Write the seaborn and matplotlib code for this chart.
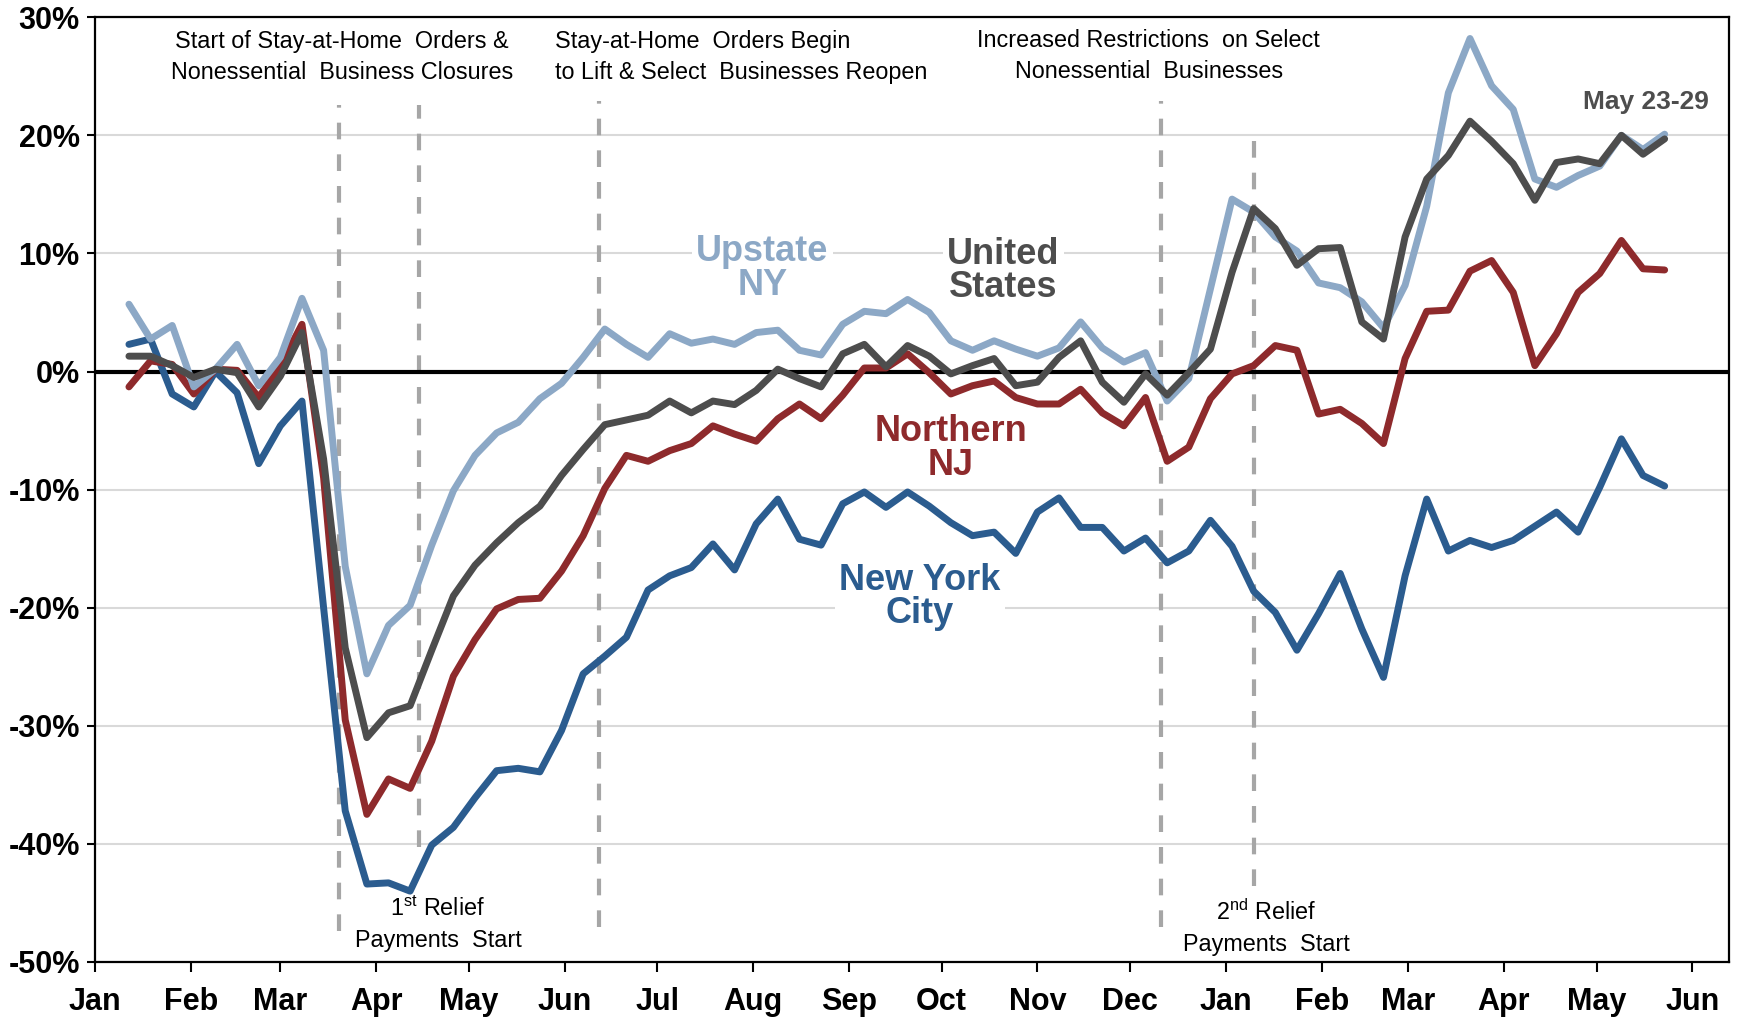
import matplotlib
matplotlib.use('Agg')
import matplotlib.pyplot as plt
import matplotlib.dates as mdates
import seaborn as sns
import pandas as pd

# weekly data, Jan 2020 - May 2021 (week starting dates)
weeks = pd.date_range('2020-01-12', periods=72, freq='7D')

nyc = [2.3, 2.75, -1.9, -3.0, 0.0, -1.8, -7.8, -4.6, -2.5, -20.0,
       -37.2, -43.4, -43.3, -44.0, -40.1, -38.6, -36.1, -33.8, -33.6, -33.9,
       -30.4, -25.6, -24.1, -22.5, -18.5, -17.3, -16.6, -14.6, -16.8, -12.9,
       -10.8, -14.2, -14.7, -11.2, -10.2, -11.5, -10.2, -11.4, -12.8, -13.9,
       -13.6, -15.4, -11.9, -10.7, -13.2, -13.2, -15.2, -14.1, -16.2, -15.2,
       -12.6, -14.8, -18.6, -20.4, -23.6, -20.5, -17.1, -21.8, -25.9, -17.3,
       -10.8, -15.2, -14.3, -14.9, -14.3, -13.1, -11.9, -13.6, -9.8, -5.7,
       -8.8, -9.7]

upstate = [5.7, 2.75, 3.9, -1.3, 0.2, 2.3, -1.2, 1.2, 6.2, 1.8,
           -16.5, -25.6, -21.5, -19.8, -14.7, -10.1, -7.1, -5.2, -4.3, -2.3,
           -1.0, 1.2, 3.6, 2.3, 1.2, 3.2, 2.4, 2.75, 2.3, 3.3,
           3.5, 1.8, 1.4, 4.0, 5.1, 4.9, 6.1, 5.0, 2.6, 1.8,
           2.6, 1.9, 1.3, 2.0, 4.2, 2.0, 0.8, 1.6, -2.5, -0.6,
           7.0, 14.6, 13.5, 11.4, 10.2, 7.5, 7.1, 5.9, 3.7, 7.3,
           14.0, 23.6, 28.2, 24.2, 22.2, 16.3, 15.6, 16.6, 17.4, 20.0,
           18.8, 20.1]

us = [1.3, 1.3, 0.5, -0.5, 0.2, -0.1, -3.0, -0.4, 3.3, -7.4,
      -23.4, -31.0, -28.9, -28.3, -23.6, -19.0, -16.4, -14.5, -12.8, -11.4,
      -8.8, -6.6, -4.5, -4.1, -3.7, -2.5, -3.5, -2.5, -2.8, -1.6,
      0.2, -0.6, -1.3, 1.5, 2.3, 0.4, 2.2, 1.3, -0.2, 0.5,
      1.1, -1.2, -0.9, 1.2, 2.6, -0.9, -2.6, -0.2, -2.0, -0.1,
      1.9, 8.4, 13.8, 12.1, 9.0, 10.4, 10.5, 4.2, 2.75, 11.4,
      16.3, 18.3, 21.2, 19.5, 17.6, 14.5, 17.7, 18.0, 17.6, 20.0,
      18.4, 19.7]

north_nj = [-1.3, 0.9, 0.6, -1.9, 0.2, 0.1, -2.2, 0.5, 4.0, -9.0,
            -29.5, -37.5, -34.5, -35.3, -31.3, -25.8, -22.7, -20.1, -19.3, -19.2,
            -16.9, -13.9, -9.9, -7.1, -7.6, -6.7, -6.1, -4.6, -5.3, -5.9,
            -4.0, -2.75, -4.0, -2.0, 0.3, 0.3, 1.5, -0.1, -1.9, -1.2,
            -0.8, -2.2, -2.75, -2.75, -1.5, -3.5, -4.6, -2.2, -7.6, -6.4,
            -2.3, -0.2, 0.5, 2.2, 1.8, -3.6, -3.2, -4.4, -6.1, 1.1,
            5.1, 5.2, 8.5, 9.4, 6.7, 0.5, 3.2, 6.7, 8.3, 11.1,
            8.7, 8.6]

regions = ['New York City', 'Northern NJ', 'Upstate NY', 'United States']
colors = ['#2b5c8f', '#8e2a2c', '#8ca8c6', '#4d4d4d']

# policy events (dashed lines)
event_dates = ['2020-03-20', '2020-04-15', '2020-06-12', '2020-12-11', '2021-01-10']
event_top = [22.6, 22.6, 22.9, 22.9, 20.5]
event_bottom = [-47.4, -40.3, -47.0, -47.0, -43.6]

df = pd.DataFrame({'week': weeks, 'New York City': nyc, 'Northern NJ': north_nj,
                   'Upstate NY': upstate, 'United States': us})
long = df.melt(id_vars='week', var_name='region', value_name='change')

sns.set_style('white')
plt.rcParams['font.family'] = ['Liberation Sans', 'DejaVu Sans']
plt.rcParams['mathtext.fontset'] = 'custom'
plt.rcParams['mathtext.rm'] = 'Liberation Sans'
plt.rcParams['mathtext.it'] = 'Liberation Sans:italic'

fig = plt.figure(figsize=(17.39, 10.21), dpi=100)
ax = fig.add_axes([0.0546, 0.0578, 0.9396, 0.9253])

sns.lineplot(data=long, x='week', y='change', hue='region', hue_order=regions,
             palette=colors, lw=5.0, legend=False, ax=ax, zorder=3,
             solid_capstyle='round', solid_joinstyle='round')

d0 = mdates.date2num(pd.Timestamp('2020-01-01'))
ax.set_xlim(d0, d0 + 528.8)
ax.set_ylim(-50, 30)

ax.axhline(0, color='black', lw=3, zorder=2)
ax.vlines([mdates.date2num(pd.Timestamp(d)) for d in event_dates], event_bottom, event_top,
          colors='#a6a6a6', lw=3.0, linestyles=(0, (4.0, 3.6)), zorder=1.5)

# axes styling
ax.set_axisbelow(True)
ax.yaxis.grid(True, color='#d9d9d9', lw=1.5)
ax.xaxis.grid(False)
for s in ax.spines.values():
    s.set_visible(True)
    s.set_color('black')
    s.set_linewidth(1.6)

yt = list(range(-50, 31, 10))
ax.set_yticks(yt)
ax.set_yticklabels([f'{v}%' for v in yt], fontsize=22, fontweight='bold')
months = pd.date_range('2020-01-01', '2021-06-01', freq='MS')
ax.set_xticks(mdates.date2num(months))
ax.set_xticklabels([m.strftime('%b') for m in months], fontsize=22, fontweight='bold')
ax.tick_params(axis='y', left=True, direction='out', length=6, width=1.5, pad=5,
               color='black', labelcolor='black')
ax.tick_params(axis='x', bottom=True, direction='out', length=7, width=1.5, pad=11,
               color='black', labelcolor='black')
ax.set_xlabel('')
ax.set_ylabel('')


def dn(s):
    return mdates.date2num(pd.Timestamp(s))


# event annotations
note = dict(fontsize=16.8, color='black', linespacing=1.45, zorder=4)
ax.text(dn('2020-03-21'), 26.6, 'Start of Stay-at-Home  Orders &\nNonessential  Business Closures',
        ha='center', va='center', multialignment='center', **note)
ax.text(dn('2020-05-29'), 26.6, 'Stay-at-Home  Orders Begin\nto Lift & Select  Businesses Reopen',
        ha='left', va='center', multialignment='left', **note)
ax.text(dn('2020-12-07'), 26.7, 'Increased Restrictions  on Select\nNonessential  Businesses',
        ha='center', va='center', multialignment='center', **note)
ax.text(dn('2020-04-21'), -46.8, '1$^{\\rm st}$ Relief\nPayments  Start',
        ha='center', va='center', multialignment='center', **note)
ax.text(dn('2021-01-14'), -47.1, '2$^{\\rm nd}$ Relief\nPayments  Start',
        ha='center', va='center', multialignment='center', **note)

# series labels
box = dict(facecolor='white', edgecolor='none', pad=3)
lab = dict(fontsize=26, fontweight='bold', ha='center', va='center', linespacing=0.95,
           zorder=2.5, bbox=box)
ax.text(dn('2020-08-04'), 8.7, 'Upstate\nNY', color=colors[2], **lab)
ax.text(dn('2020-10-21'), 8.5, 'United\nStates', color=colors[3], **lab)
ax.text(dn('2020-10-04'), -6.5, 'Northern\nNJ', color=colors[1], **lab)
ax.text(dn('2020-09-24'), -19.1, 'New York\nCity', color=colors[0], **lab)
ax.text(dn('2021-05-17'), 22.8, 'May 23-29', color=colors[3], fontsize=19,
        fontweight='bold', ha='center', va='center')

fig.savefig('out.png', dpi=100)
